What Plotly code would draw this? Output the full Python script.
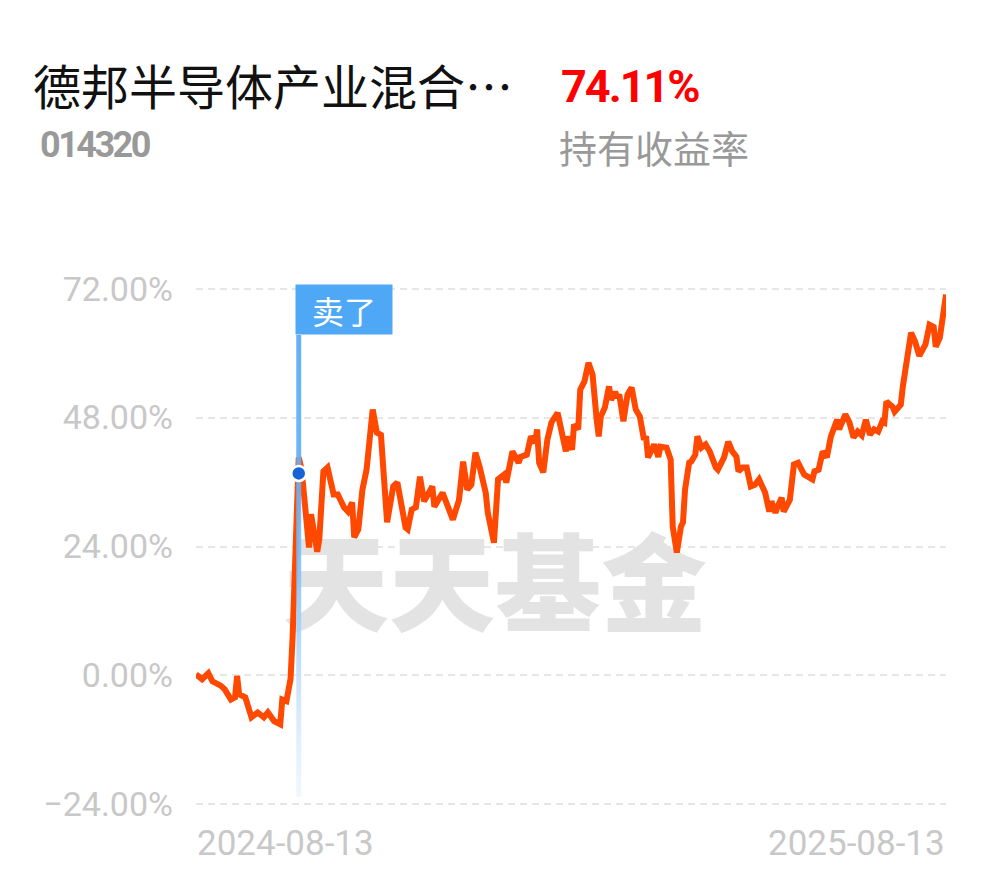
import plotly.graph_objects as go
import pandas as pd

# ---------------- data ----------------
fund_name = "德邦半导体产业混合…"
fund_code = "014320"
holding_return = "74.11%"
holding_return_label = "持有收益率"
watermark_text = "天天基金"

dates = [
    "2024-08-13", "2024-08-16", "2024-08-19", "2024-08-21", "2024-08-25", "2024-08-27",
    "2024-08-30", "2024-09-01", "2024-09-02", "2024-09-03", "2024-09-06", "2024-09-09",
    "2024-09-12", "2024-09-15", "2024-09-17", "2024-09-20", "2024-09-23", "2024-09-24",
    "2024-09-26", "2024-09-28", "2024-09-29", "2024-09-30", "2024-10-01", "2024-10-02",
    "2024-10-03", "2024-10-04", "2024-10-07", "2024-10-08", "2024-10-11", "2024-10-12",
    "2024-10-14", "2024-10-16", "2024-10-19", "2024-10-21", "2024-10-24", "2024-10-26",
    "2024-10-28", "2024-10-29", "2024-10-31", "2024-11-02", "2024-11-04", "2024-11-07",
    "2024-11-09", "2024-11-11", "2024-11-14", "2024-11-17", "2024-11-19", "2024-11-23",
    "2024-11-24", "2024-11-26", "2024-11-28", "2024-11-30", "2024-12-02", "2024-12-06",
    "2024-12-07", "2024-12-11", "2024-12-16", "2024-12-19", "2024-12-21", "2024-12-23",
    "2024-12-25", "2024-12-27", "2024-12-29", "2025-01-01", "2025-01-02", "2025-01-05",
    "2025-01-07", "2025-01-10", "2025-01-11", "2025-01-14", "2025-01-17", "2025-01-18",
    "2025-01-21", "2025-01-23", "2025-01-25", "2025-01-26", "2025-01-27", "2025-01-29",
    "2025-01-31", "2025-02-02", "2025-02-05", "2025-02-08", "2025-02-09", "2025-02-10",
    "2025-02-12", "2025-02-13", "2025-02-15", "2025-02-16", "2025-02-18", "2025-02-20",
    "2025-02-22", "2025-02-24", "2025-02-25", "2025-02-26", "2025-02-28", "2025-03-02",
    "2025-03-03", "2025-03-05", "2025-03-06", "2025-03-07", "2025-03-09", "2025-03-11",
    "2025-03-13", "2025-03-15", "2025-03-17", "2025-03-19", "2025-03-20", "2025-03-21",
    "2025-03-23", "2025-03-24", "2025-03-26", "2025-03-27", "2025-03-30", "2025-04-01",
    "2025-04-02", "2025-04-04", "2025-04-06", "2025-04-07", "2025-04-08", "2025-04-10",
    "2025-04-11", "2025-04-13", "2025-04-14", "2025-04-16", "2025-04-18", "2025-04-20",
    "2025-04-23", "2025-04-24", "2025-04-27", "2025-04-29", "2025-05-01", "2025-05-03",
    "2025-05-04", "2025-05-06", "2025-05-08", "2025-05-10", "2025-05-12", "2025-05-14",
    "2025-05-17", "2025-05-19", "2025-05-20", "2025-05-22", "2025-05-23", "2025-05-25",
    "2025-05-26", "2025-05-29", "2025-05-31", "2025-06-02", "2025-06-05", "2025-06-07",
    "2025-06-09", "2025-06-10", "2025-06-12", "2025-06-14", "2025-06-16", "2025-06-18",
    "2025-06-21", "2025-06-22", "2025-06-25", "2025-06-27", "2025-06-29", "2025-07-01",
    "2025-07-03", "2025-07-05", "2025-07-07", "2025-07-09", "2025-07-11", "2025-07-13",
    "2025-07-14", "2025-07-15", "2025-07-18", "2025-07-19", "2025-07-22", "2025-07-23",
    "2025-07-25", "2025-07-27", "2025-07-29", "2025-07-31", "2025-08-03", "2025-08-05",
    "2025-08-07", "2025-08-08", "2025-08-10", "2025-08-13",
]

returns_pct = [
    0.2, -0.7, 0.4, -1.1, -1.9, -2.6,
    -4.5, -4.1, -0.1, -3.5, -4.1, -7.8,
    -6.9, -7.8, -6.9, -8.5, -9.1, -4.5,
    -4.8, -0.7, 7.0, 19.0, 32.0, 40.6,
    39.0, 35.9, 23.8, 30.0, 23.0, 25.3,
    38.0, 38.7, 33.7, 33.7, 31.3, 30.5,
    32.2, 25.7, 27.2, 34.6, 38.3, 49.5,
    45.2, 44.8, 28.5, 35.2, 35.9, 27.5,
    27.2, 30.9, 31.3, 37.0, 32.4, 35.2,
    31.4, 34.0, 29.0, 32.7, 39.8, 34.6,
    35.5, 41.5, 38.9, 34.0, 30.3, 24.7,
    36.5, 37.4, 35.9, 41.7, 39.6, 40.7,
    41.1, 44.5, 43.3, 45.8, 39.6, 37.8,
    43.9, 47.1, 48.9, 42.6, 41.7, 44.5,
    42.0, 46.7, 45.8, 53.2, 54.7, 58.2,
    56.0, 47.6, 44.5, 48.2, 49.9, 53.8,
    51.3, 52.8, 51.7, 52.3, 47.3, 52.3,
    53.6, 49.5, 48.2, 43.9, 44.5, 40.6,
    42.0, 43.0, 40.7, 42.6, 42.4, 40.2,
    27.7, 22.9, 27.7, 28.5, 34.6, 39.6,
    39.8, 41.1, 44.5, 42.4, 43.0, 41.7,
    38.7, 38.3, 40.6, 43.5, 41.7, 40.7,
    38.0, 38.7, 38.7, 35.2, 35.5, 36.5,
    34.0, 30.5, 32.4, 30.3, 31.4, 33.1,
    30.5, 32.7, 39.3, 39.6, 37.4, 37.0,
    36.5, 38.0, 38.3, 41.7, 40.6, 44.5,
    47.6, 45.8, 48.6, 47.1, 44.3, 45.4,
    44.7, 47.6, 44.8, 45.8, 45.4, 47.3,
    47.1, 51.0, 50.0, 49.1, 50.4, 53.8,
    59.3, 63.8, 62.1, 59.5, 61.6, 65.3,
    64.9, 61.2, 62.9, 70.9,
]

y_tick_values = [-24, 0, 24, 48, 72]
y_tick_labels = ["\u221224.00%", "0.00%", "24.00%", "48.00%", "72.00%"]
x_tick_labels = ["2024-08-13", "2025-08-13"]

sell_date = "2024-10-02"
sell_value = 37.6
sell_label = "卖了"

# ---------------- styling constants ----------------
PAGE_MARGIN = 8            # default body margin of the html page
W, H = 990 - PAGE_MARGIN, 878 - PAGE_MARGIN
L, R, T, B = 188, 44, 278, 71
Y_RANGE = [-24.5, 72.5]
PLOT_W = W - L - R
PLOT_H = H - T - B
LINE_COLOR = "#ff4800"
GRID_COLOR = "#e6e6e6"
TICK_COLOR = "#c8c8c8"
BAR_TOP = 63.4
BAR_BOTTOM = -22.6
BAR_HALF_DAYS = 1.2
NUM_FONT = "Roboto"
CJK_FONT = "Noto Sans CJK SC"


def px_x(page_px):
    return (page_px - PAGE_MARGIN - L) / PLOT_W


def px_y(page_py):
    return (H - B - (page_py - PAGE_MARGIN)) / PLOT_H


def tight(text, spacing):
    return f'<span style="letter-spacing:{spacing}px">{text}</span>'


fig = go.Figure()

# watermark (drawn first so it sits below the line)
fig.add_trace(go.Scatter(
    x=[pd.Timestamp("2025-01-05 12:00")], y=[14.6], mode="text",
    text=[watermark_text], textposition="middle center",
    textfont=dict(size=106, color="#e3e3e3", family=CJK_FONT, weight=900),
    hoverinfo="skip", showlegend=False, cliponaxis=False,
))

# return line
fig.add_trace(go.Scatter(
    x=pd.to_datetime(dates), y=returns_pct, mode="lines",
    line=dict(color=LINE_COLOR, width=6),
    hoverinfo="skip", showlegend=False,
))

# sell marker bar with vertical gradient
sd = pd.Timestamp(sell_date)
hw = pd.Timedelta(days=BAR_HALF_DAYS)
fig.add_trace(go.Scatter(
    x=[sd - hw, sd + hw, sd + hw, sd - hw, sd - hw],
    y=[BAR_BOTTOM, BAR_BOTTOM, BAR_TOP, BAR_TOP, BAR_BOTTOM],
    mode="lines", fill="toself", line=dict(width=0),
    fillgradient=dict(
        type="vertical", start=BAR_BOTTOM, stop=BAR_TOP,
        colorscale=[
            [0.0, "rgba(225,238,253,0.5)"],
            [0.25, "rgba(195,222,250,0.85)"],
            [0.5, "rgba(130,190,246,0.9)"],
            [0.7, "rgba(100,176,245,0.92)"],
            [1.0, "rgba(92,172,245,0.95)"],
        ],
    ),
    hoverinfo="skip", showlegend=False,
))

# sell dot
fig.add_trace(go.Scatter(
    x=[sd], y=[sell_value], mode="markers",
    marker=dict(size=15, color="#1662d6", line=dict(color="white", width=2.5)),
    hoverinfo="skip", showlegend=False,
))

annotations = [
    dict(text=fund_name, x=px_x(31), y=px_y(84), xref="paper", yref="paper",
         xanchor="left", yanchor="middle", showarrow=False,
         font=dict(size=48, color="#111111", family=CJK_FONT)),
    dict(text=tight(fund_code, -2.5), x=px_x(38), y=px_y(145), xref="paper", yref="paper",
         xanchor="left", yanchor="middle", showarrow=False,
         font=dict(size=36, color="#999999", weight="bold", family=NUM_FONT)),
    dict(text=tight(holding_return, -2), x=px_x(559), y=px_y(86), xref="paper", yref="paper",
         xanchor="left", yanchor="middle", showarrow=False,
         font=dict(size=45, color="#ff0000", weight="bold", family=NUM_FONT)),
    dict(text=holding_return_label, x=px_x(557), y=px_y(146), xref="paper", yref="paper",
         xanchor="left", yanchor="middle", showarrow=False,
         font=dict(size=38, color="#999999", family=CJK_FONT)),
    dict(text=x_tick_labels[0], x=pd.Timestamp(dates[0]), y=px_y(843), xref="x", yref="paper",
         xanchor="left", yanchor="middle", showarrow=False, xshift=-1,
         font=dict(size=35, color=TICK_COLOR, family=NUM_FONT)),
    dict(text=x_tick_labels[1], x=pd.Timestamp(dates[-1]), y=px_y(843), xref="x", yref="paper",
         xanchor="right", yanchor="middle", showarrow=False, xshift=1,
         font=dict(size=35, color=TICK_COLOR, family=NUM_FONT)),
    dict(text=sell_label, x=sd, y=BAR_TOP, xref="x", yref="y",
         xanchor="left", yanchor="bottom", showarrow=False, xshift=-4,
         width=92, height=45, borderpad=2, bgcolor="#4fa8f6", align="center",
         valign="middle",
         font=dict(size=32, color="white", family=CJK_FONT)),
]

fig.update_layout(
    width=W, height=H,
    margin=dict(l=L, r=R, t=T, b=B, pad=0),
    paper_bgcolor="white", plot_bgcolor="white",
    hovermode=False, showlegend=False,
    annotations=annotations,
    xaxis=dict(
        type="date", range=[pd.Timestamp(dates[0]), pd.Timestamp(dates[-1])],
        showgrid=False, zeroline=False, showline=False, showticklabels=False,
        ticks="", fixedrange=True,
    ),
    yaxis=dict(
        range=Y_RANGE, tickvals=y_tick_values, ticktext=y_tick_labels,
        showgrid=True, gridcolor=GRID_COLOR, gridwidth=2, griddash="7px,5px",
        zeroline=False, showline=False, ticks="", ticklabelstandoff=22,
        tickfont=dict(size=34, color=TICK_COLOR, family=NUM_FONT),
        fixedrange=True,
    ),
)

fig.write_html("out.html")
